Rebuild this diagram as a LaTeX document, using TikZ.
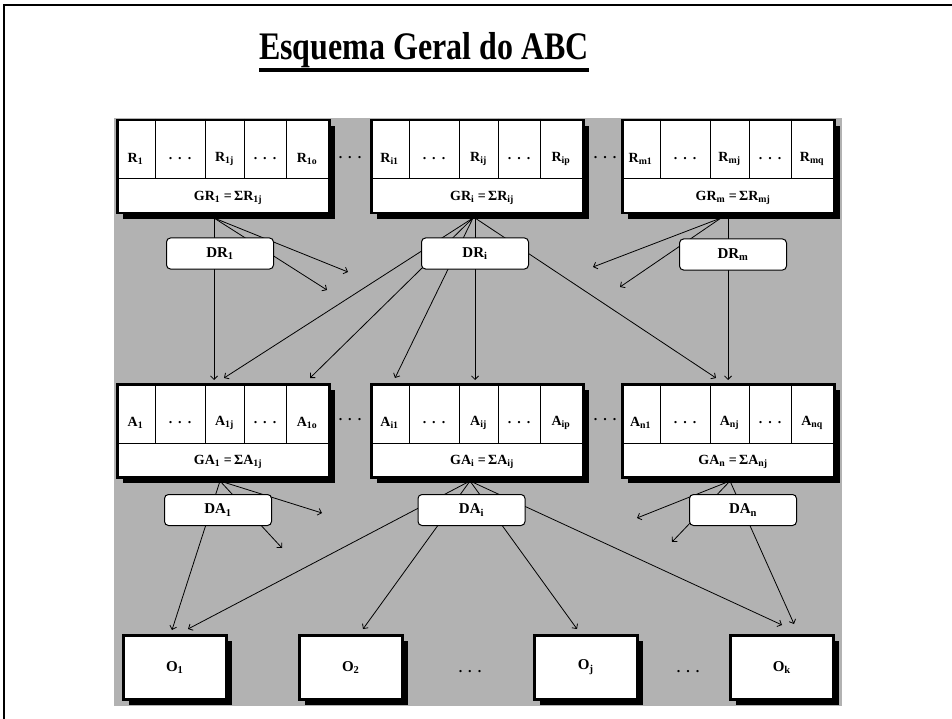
\documentclass[tikz,border=0pt]{standalone}
\usepackage{fontspec}
\setmainfont{Liberation Serif}
\usetikzlibrary{arrows.meta,shadows}
\definecolor{bggray}{RGB}{178,178,178}
\newcommand\abcbox[7]{%
\begin{scope}[shift={(#2,#3)}]
\node[mainbox, anchor=north west, minimum width=212, minimum height=93] (#1) at (0,0) {};
\draw[cellline] (0,60) -- (212,60);
\foreach \cx in {39,89,128,170} \draw[cellline] (\cx,0) -- (\cx,60);
\node[ctext] at (19.5,40) {#4};
\node[ctext] at (64,40) {\dotsrow};
\node[ctext] at (108.5,40) {#5};
\node[ctext] at (149,40) {\dotsrow};
\node[ctext] at (191,40) {#6};
\node[ctext] at (112,79) {#7};
\end{scope}}
\newcommand\dotsrow{.\hspace{6pt}.\hspace{6pt}.}
\begin{document}
\begin{tikzpicture}[x=1pt,y=-1pt,
  mainbox/.style={rectangle, draw=black, line width=2.5pt, fill=white, inner sep=0pt,
    drop shadow={shadow xshift=6pt, shadow yshift=-6pt, fill=black, opacity=1}},
  obox/.style={mainbox, minimum width=103, minimum height=64,
    drop shadow={shadow xshift=6pt, shadow yshift=-6pt, fill=black, opacity=1},
    font=\fontsize{15}{15}\selectfont\bfseries},
  cellline/.style={line width=1pt},
  ctext/.style={inner sep=0pt, font=\fontsize{14}{14}\selectfont\bfseries},
  dnode/.style={rectangle, rounded corners=4pt, draw=black, line width=1pt, fill=white,
    minimum width=107, minimum height=31, inner sep=0pt, font=\fontsize{15}{15}\selectfont\bfseries},
  arr/.style={-{Straight Barb[length=3.5pt,width=7pt]}, line width=0.8pt},
  sep/.style={inner sep=0pt, font=\fontsize{14}{14}\selectfont\bfseries}
]
\useasboundingbox (0,0) rectangle (952,719);
\fill[white] (0,0) rectangle (952,719);
\draw[line width=1.3pt] (4,719) -- (4,5) -- (952,5);
% title
\node[inner sep=0pt, font=\fontsize{39}{39}\selectfont\bfseries] (title) at (424,50)
  {\scalebox{0.82}[1]{Esquema Geral do ABC}};
\draw[line width=4pt] ([yshift=-2pt]title.south west) -- ([yshift=-2pt]title.south east);
% gray panel
\fill[bggray] (114,118) rectangle (842,706);
% origins
\coordinate (r1o) at (214,218);
\coordinate (r2o) at (473,218);
\coordinate (r2v) at (475,218);
\coordinate (r3o) at (721,218);
\coordinate (r3v) at (728,218);
\coordinate (a1o) at (220,481);
\coordinate (a2o) at (470,481);
\coordinate (a3o) at (730,481);
% free ends
\coordinate (t1) at (214,380);
\coordinate (t2) at (348,272);
\coordinate (t3) at (327,290);
\coordinate (t4) at (224,378);
\coordinate (t5) at (310,378);
\coordinate (t6) at (395,378);
\coordinate (t7) at (475,380);
\coordinate (t8) at (716,378);
\coordinate (t9) at (593,267);
\coordinate (t10) at (620,287);
\coordinate (t11) at (728,380);
\coordinate (u1) at (172,630);
\coordinate (u2) at (322,513);
\coordinate (u3) at (282,548);
\coordinate (u4) at (188,629);
\coordinate (u5) at (363,629);
\coordinate (u6) at (577,629);
\coordinate (u7) at (782,625);
\coordinate (u8) at (637,518);
\coordinate (u9) at (672,542);
\coordinate (u10) at (794,624);
% connectors
\draw[arr] (r1o) -- (t1);
\draw[arr] (r1o) -- (t2);
\draw[arr] (r1o) -- (t3);
\draw[arr] (r2o) -- (t4);
\draw[arr] (r2o) -- (t5);
\draw[arr] (r2o) -- (t6);
\draw[arr] (r2v) -- (t7);
\draw[arr] (r2v) -- (t8);
\draw[arr] (r3o) -- (t9);
\draw[arr] (r3o) -- (t10);
\draw[arr] (r3v) -- (t11);
\draw[arr] (a1o) -- (u1);
\draw[arr] (a1o) -- (u2);
\draw[arr] (a1o) -- (u3);
\draw[arr] (a2o) -- (u4);
\draw[arr] (a2o) -- (u5);
\draw[arr] (a2o) -- (u6);
\draw[arr] (a2o) -- (u7);
\draw[arr] (a3o) -- (u8);
\draw[arr] (a3o) -- (u9);
\draw[arr] (a3o) -- (u10);
% driver nodes
\node[dnode] (DR1) at (220,253.5) {DR\textsubscript{1}};
\node[dnode] (DRi) at (475,253.5) {DR\textsubscript{i}};
\node[dnode] (DRm) at (733,254.5) {DR\textsubscript{m}};
\node[dnode] (DA1) at (218,510) {DA\textsubscript{1}};
\node[dnode] (DAi) at (471.5,510) {DA\textsubscript{i}};
\node[dnode] (DAn) at (743,510) {DA\textsubscript{n}};
% resource boxes
\abcbox{R1}{116}{119}{R\textsubscript{1}}{R\textsubscript{1j}}{R\textsubscript{1o}}{GR\textsubscript{1} =\,ΣR\textsubscript{1j}}
\abcbox{R2}{370}{119}{R\textsubscript{i1}}{R\textsubscript{ij}}{R\textsubscript{ip}}{GR\textsubscript{i} =\,ΣR\textsubscript{ij}}
\abcbox{R3}{621}{119}{R\textsubscript{m1}}{R\textsubscript{mj}}{R\textsubscript{mq}}{GR\textsubscript{m} =\,ΣR\textsubscript{mj}}
\node[sep] (rs1) at (350,158) {\dotsrow};
\node[sep] (rs2) at (605,158) {\dotsrow};
% activity boxes
\abcbox{A1}{116}{383}{A\textsubscript{1}}{A\textsubscript{1j}}{A\textsubscript{1o}}{GA\textsubscript{1} =\,ΣA\textsubscript{1j}}
\abcbox{A2}{370}{383}{A\textsubscript{i1}}{A\textsubscript{ij}}{A\textsubscript{ip}}{GA\textsubscript{i} =\,ΣA\textsubscript{ij}}
\abcbox{A3}{621}{383}{A\textsubscript{n1}}{A\textsubscript{nj}}{A\textsubscript{nq}}{GA\textsubscript{n} =\,ΣA\textsubscript{nj}}
\node[sep] (as1) at (350,420) {\dotsrow};
\node[sep] (as2) at (605,420) {\dotsrow};
% objects
\node[obox, anchor=north west] (O1) at (122,634) {O\textsubscript{1}};
\node[obox, anchor=north west] (O2) at (298,634) {O\textsubscript{2}};
\node[obox, anchor=north west] (Oj) at (533,634) {O\textsubscript{j}};
\node[obox, anchor=north west] (Ok) at (729,634) {O\textsubscript{k}};
\node[sep] (os1) at (470,672) {\dotsrow};
\node[sep] (os2) at (688,672) {\dotsrow};
\end{tikzpicture}
\end{document}
